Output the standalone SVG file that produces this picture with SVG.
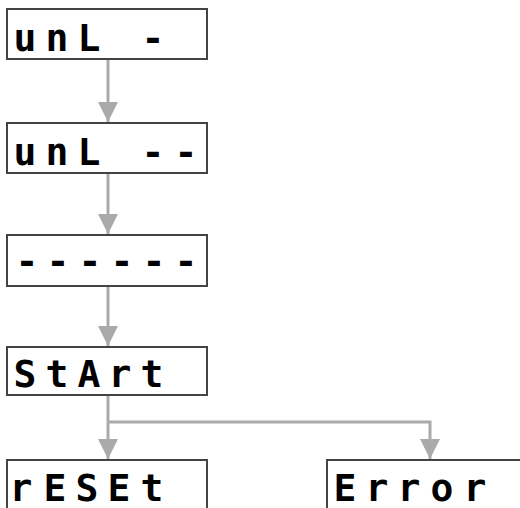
<svg xmlns="http://www.w3.org/2000/svg" width="520" height="508" viewBox="0 0 520 508">
<style>
.box{fill:#fff;stroke:#444;stroke-width:2}
.lcd{font-family:"DejaVu Sans Mono","Liberation Mono",monospace;font-weight:bold;font-size:38px;fill:#000;text-anchor:middle}
.conn{fill:none;stroke:#aaa;stroke-width:3}
</style>
<defs>
<marker id="ah" markerUnits="userSpaceOnUse" markerWidth="20" markerHeight="20" refX="20" refY="10" orient="auto" viewBox="0 0 20 20">
<path d="M0,0 L20,10 L0,20 Z" fill="#aaa"/>
</marker>
</defs>
<g id="connectors">
<path class="conn" d="M108,59 V122" marker-end="url(#ah)"/>
<path class="conn" d="M108,173 V234" marker-end="url(#ah)"/>
<path class="conn" d="M108,286 V346" marker-end="url(#ah)"/>
<path class="conn" d="M108,396 V459" marker-end="url(#ah)"/>
<path class="conn" d="M108,422 H430 V459" marker-end="url(#ah)"/>
</g>
<g id="n1">
<rect class="box" x="7" y="9" width="200" height="50"/>
<text class="lcd" x="25 57 89 121 153 186" y="51">unL  -</text>
</g>
<g id="n2">
<rect class="box" x="7" y="123" width="200" height="50"/>
<text class="lcd" x="25 57 89 121 153 186" y="165">unL --</text>
</g>
<g id="n3">
<rect class="box" x="7" y="235" width="200" height="51"/>
<text class="lcd" x="27 58 90 122 154 186" y="274">------</text>
</g>
<g id="n4">
<rect class="box" x="7" y="347" width="200" height="48"/>
<text class="lcd" x="25 57 89 120 152" y="387">StArt</text>
</g>
<g id="n5">
<rect class="box" x="7" y="460" width="200" height="60"/>
<text class="lcd" x="21 55 87 119 152" y="501">rESEt</text>
</g>
<g id="n6">
<rect class="box" x="327" y="460" width="200" height="60"/>
<text class="lcd" x="345 377 409 442 475" y="501">Error</text>
</g>
</svg>
